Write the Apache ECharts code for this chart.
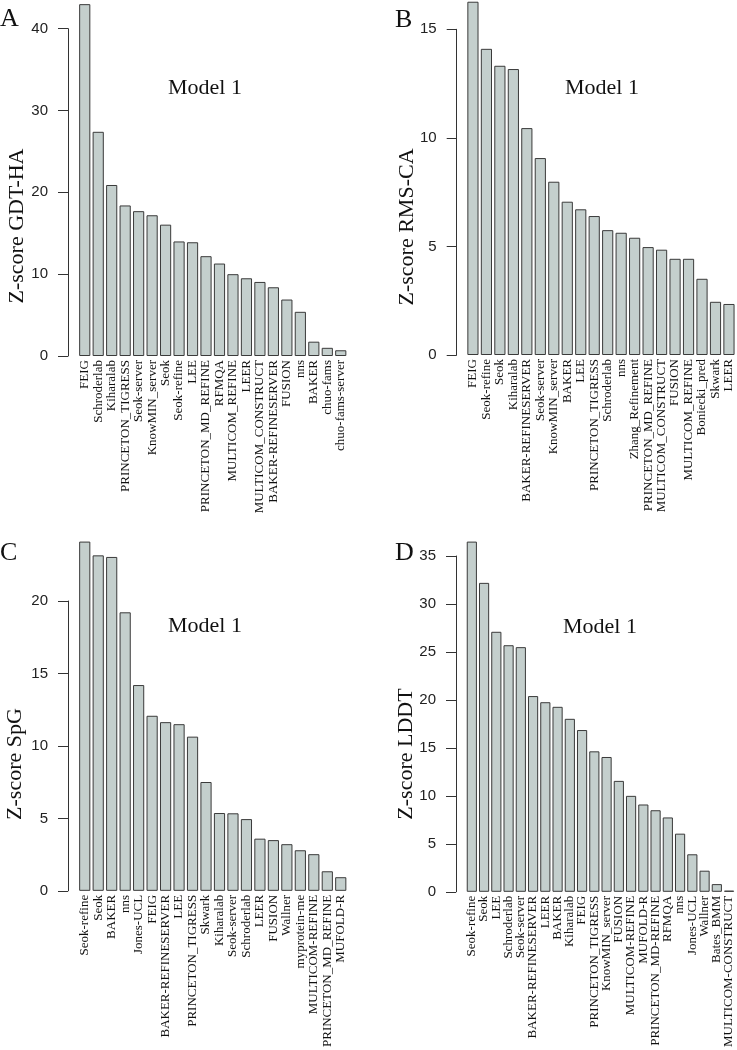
<!DOCTYPE html>
<html>
<head>
<meta charset="utf-8">
<script src="https://cdn.jsdelivr.net/npm/echarts@6/dist/echarts.min.js"></script>
<style>
html,body{margin:0;padding:0;background:#fff;}
#chart{width:737px;height:1050px;}
</style>
</head>
<body>
<div id="chart"></div>
<script>
// Panel A: Z-score GDT-HA
var catsA = ["FEIG","Schroderlab","Kiharalab","PRINCETON_TIGRESS","Seok-server","KnowMIN_server","Seok","Seok-refine","LEE","PRINCETON_MD_REFINE","RFMQA","MULTICOM_REFINE","LEER","MULTICOM_CONSTRUCT","BAKER-REFINESERVER","FUSION","nns","BAKER","chuo-fams","chuo-fams-server"];
var valsA = [43.0,27.4,20.9,18.4,17.7,17.2,16.05,14.0,13.9,12.2,11.3,10.0,9.5,9.05,8.4,6.9,5.4,1.75,1.0,0.7];
var ticksA = {min:0, max:40, interval:10};

// Panel B: Z-score RMS-CA
var catsB = ["FEIG","Seok-refine","Seok","Kiharalab","BAKER-REFINESERVER","Seok-server","KnowMIN_server","BAKER","LEE","PRINCETON_TIGRESS","Schroderlab","nns","Zhang_Refinement","PRINCETON_MD_REFINE","MULTICOM_CONSTRUCT","FUSION","MULTICOM_REFINE","Boniecki_pred","Skwark","LEER"];
var valsB = [16.27,14.1,13.32,13.17,10.45,9.07,7.98,7.06,6.71,6.4,5.75,5.63,5.4,4.97,4.85,4.43,4.43,3.51,2.45,2.35];
var ticksB = {min:0, max:15, interval:5};

// Panel C: Z-score SpG
var catsC = ["Seok-refine","Seok","BAKER","nns","Jones-UCL","FEIG","BAKER-REFINESERVER","LEE","PRINCETON_TIGRESS","Skwark","Kiharalab","Seok-server","Schroderlab","LEER","FUSION","Wallner","myprotein-me","MULTICOM-REFINE","PRINCETON_MD_REFINE","MUFOLD-R"];
var valsC = [24.1,23.15,23.04,19.22,14.2,12.08,11.64,11.5,10.64,7.51,5.37,5.35,4.95,3.6,3.5,3.22,2.8,2.53,1.35,0.94];
var ticksC = {min:0, max:20, interval:5};

// Panel D: Z-score LDDT
var catsD = ["Seok-refine","Seok","LEE","Schroderlab","Seok-server","BAKER-REFINESERVER","LEER","BAKER","Kiharalab","FEIG","PRINCETON_TIGRESS","KnowMIN_server","FUSION","MULTICOM-REFINE","MUFOLD-R","PRINCETON_MD-REFINE","RFMQA","nns","Jones-UCL","Wallner","Bates_BMM","MULTICOM-CONSTRUCT"];
var valsD = [36.5,32.2,27.1,25.7,25.5,20.4,19.76,19.28,18.03,16.86,14.64,14.05,11.56,10.0,9.1,8.5,7.75,6.06,3.91,2.2,0.8,0.12];
var ticksD = {min:0, max:35, interval:5};

var panels = [
  {cats:catsA, vals:valsA, ticks:ticksA, grid:{left:78, top:28.7, width:269.5, height:327.3}, offset:10},
  {cats:catsB, vals:valsB, ticks:ticksB, grid:{left:466.2, top:29.3, width:269.5, height:325.7}, offset:9.5},
  {cats:catsC, vals:valsC, ticks:ticksC, grid:{left:78, top:601, width:269.5, height:292}, offset:10},
  {cats:catsD, vals:valsD, ticks:ticksD, grid:{left:465.7, top:556, width:269.5, height:337}, offset:9.7}
];

var serif = '"Liberation Serif","Times New Roman",serif';
var sans = '"Liberation Sans",Arial,sans-serif';

var grids = [], xAxes = [], yAxes = [], series = [];
panels.forEach(function(p, i){
  grids.push(p.grid);
  xAxes.push({
    type:'category', gridIndex:i, data:p.cats,
    axisLine:{show:false}, axisTick:{show:false}, splitLine:{show:false},
    axisLabel:{rotate:90, interval:0, margin:4, fontFamily:serif, fontSize:13, color:'#111'}
  });
  yAxes.push({
    type:'value', gridIndex:i, min:p.ticks.min, max:p.ticks.max, interval:p.ticks.interval,
    offset:p.offset,
    axisLine:{show:true, lineStyle:{color:'#333', width:1}},
    axisTick:{show:true, length:10, inside:false, lineStyle:{color:'#333'}},
    splitLine:{show:false},
    axisLabel:{margin:20, fontFamily:sans, fontSize:15, color:'#222'}
  });
  series.push({
    type:'bar', xAxisIndex:i, yAxisIndex:i, data:p.vals, barWidth:'83%', clip:false,
    itemStyle:{color:'#c4cfcd', borderColor:'#3a3a3a', borderWidth:1},
    animation:false
  });
});

function txt(t, x, y, size, align, rot){
  return {type:'text', x:x, y:y, rotation:rot||0,
    style:{text:t, font:size+'px '+serif, fill:'#111', align:align, verticalAlign:'middle', textAlign:align, textVerticalAlign:'middle'}};
}

var graphics = [
  txt('A', 0, 19.5, 26, 'left'),
  txt('B', 395, 20, 26, 'left'),
  txt('C', 0, 553, 26, 'left'),
  txt('D', 395, 553, 26, 'left'),
  txt('Model 1', 205, 88, 22, 'center'),
  txt('Model 1', 602, 88, 22, 'center'),
  txt('Model 1', 205, 626, 22, 'center'),
  txt('Model 1', 600, 627, 22, 'center'),
  txt('Z-score GDT-HA', 17, 226, 22, 'center', Math.PI/2),
  txt('Z-score RMS-CA', 407, 227, 22, 'center', Math.PI/2),
  txt('Z-score SpG', 15, 764, 22, 'center', Math.PI/2),
  txt('Z-score LDDT', 406, 754, 22, 'center', Math.PI/2)
];

var chart = echarts.init(document.getElementById('chart'), null, {renderer:'canvas'});
chart.setOption({
  animation:false,
  backgroundColor:'#fff',
  grid:grids, xAxis:xAxes, yAxis:yAxes, series:series,
  graphic:graphics
});
</script>
</body>
</html>
